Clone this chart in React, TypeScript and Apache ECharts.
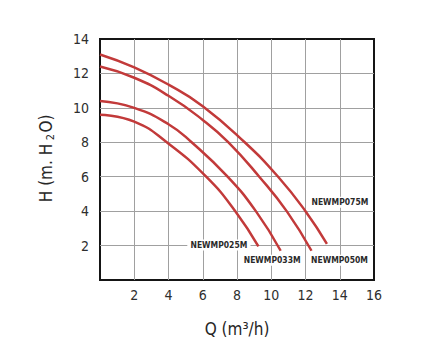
import React, { useEffect, useRef } from "react";
import * as echarts from "echarts";

// Pump curves: flow Q (m3/h) vs head H (m H2O)
const seriesNames = ["NEWMP075M", "NEWMP050M", "NEWMP033M", "NEWMP025M"];

const q075 = [0, 2, 4, 6, 8.45, 10.4, 12, 13.25];
const h075 = [13.1, 12.35, 11.35, 10.1, 8, 6, 4, 2.1];

const q050 = [0, 2, 4, 6, 7.5, 9.3, 10.9, 12.35];
const h050 = [12.4, 11.75, 10.7, 9.3, 8, 6, 4, 1.7];

const q033 = [0, 2, 4, 5.35, 7.45, 9.1, 10.55];
const h033 = [10.4, 10.0, 9.05, 8, 6, 4, 1.7];

const q025 = [0, 2, 3.9, 6.2, 7.9, 9.25];
const h025 = [9.6, 9.2, 8, 6, 4, 1.95];

const xTicks = [0, 2, 4, 6, 8, 10, 12, 14, 16];
const yTicks = [0, 2, 4, 6, 8, 10, 12, 14];

const qData = [q075, q050, q033, q025];
const hData = [h075, h050, h033, h025];

// label placement (style only): offset from curve end in px
const labelOffsets: [number, number][] = [
  [13, -41.5],
  [28, 9.5],
  [-8.5, 9.5],
  [-39.5, -1.5],
];

const RED = "#c23a3a";
const NARROW = "'DejaVu Sans', sans-serif";

export default function App() {
  const ref = useRef<HTMLDivElement>(null);

  useEffect(() => {
    if (!ref.current) return;
    const chart = echarts.init(ref.current, null, { renderer: "svg" });

    const series = seriesNames.map((name, i) => {
      const data = qData[i].map((q, j) => [q, hData[i][j]]);
      const last = data[data.length - 1];
      return {
        type: "line",
        name,
        data,
        smooth: 0.5,
        showSymbol: false,
        symbol: "none",
        lineStyle: { color: RED, width: 2.5 },
        z: 3,
        markPoint: {
          symbol: "circle",
          symbolSize: 1,
          itemStyle: { color: "rgba(0,0,0,0)" },
          silent: true,
          data: [
            {
              coord: last,
              label: {
                show: true,
                position: "inside",
                offset: labelOffsets[i],
                formatter: name,
                fontFamily: NARROW,
                fontWeight: "bold",
                fontSize: 8.5,
                color: "#2a2a2a",
                backgroundColor: "#ffffff",
                padding: [1, 0, 1, 0],
              },
            },
          ],
        },
      };
    });

    chart.setOption({
      animation: false,
      backgroundColor: "#ffffff",
      grid: {
        left: 100,
        top: 39,
        width: 274,
        height: 241,
        show: true,
        borderColor: "#151515",
        borderWidth: 2,
        backgroundColor: "transparent",
      },
      xAxis: {
        type: "value",
        min: xTicks[0],
        max: xTicks[xTicks.length - 1],
        interval: xTicks[1] - xTicks[0],
        axisLine: { show: false },
        axisTick: { show: false },
        splitLine: {
          show: true,
          showMinLine: false,
          showMaxLine: false,
          lineStyle: { color: "#a0a0a0", width: 1 },
        },
        axisLabel: {
          formatter: (v: number) => (v === 0 ? "" : String(v)),
          fontFamily: NARROW,
          fontSize: 14,
          color: "#2e2e2e",
          margin: 8,
        },
        name: "Q (m³/h)",
        nameLocation: "middle",
        nameGap: 40,
        nameTextStyle: { fontFamily: NARROW, fontSize: 17, color: "#262626" },
      },
      yAxis: {
        type: "value",
        min: yTicks[0],
        max: yTicks[yTicks.length - 1],
        interval: yTicks[1] - yTicks[0],
        axisLine: { show: false },
        axisTick: { show: false },
        splitLine: {
          show: true,
          showMinLine: false,
          showMaxLine: false,
          lineStyle: { color: "#a0a0a0", width: 1 },
        },
        axisLabel: {
          formatter: (v: number) => (v === 0 ? "" : String(v)),
          fontFamily: NARROW,
          fontSize: 14,
          color: "#2e2e2e",
          margin: 11,
        },
        name: "H (m. H{sub|2}O)",
        nameLocation: "middle",
        nameGap: 44,
        nameTextStyle: {
          fontFamily: NARROW,
          fontSize: 17,
          color: "#262626",
          rich: {
            sub: {
              fontFamily: NARROW,
              fontSize: 11,
              color: "#262626",
              padding: [9, 0, 0, 0],
            },
          },
        },
      },
      series,
    });

    return () => chart.dispose();
  }, []);

  return (
    <>
      <style>{"#root svg text { font-stretch: condensed !important; }"}</style>
      <div
        ref={ref}
        style={{
          position: "absolute",
          left: 0,
          top: 0,
          width: 425,
          height: 357,
          background: "#fff",
        }}
      />
    </>
  );
}
